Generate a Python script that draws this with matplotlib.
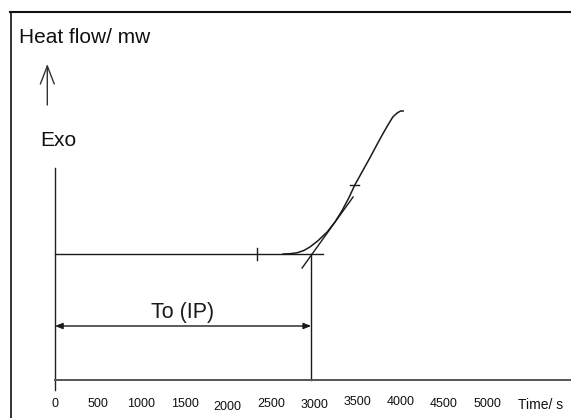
import numpy as np
import matplotlib
matplotlib.use("Agg")
import matplotlib.pyplot as plt
from matplotlib.lines import Line2D
from matplotlib.patches import FancyArrowPatch
from matplotlib.transforms import ScaledTranslation

plt.rcParams['font.family'] = ['Liberation Sans', 'DejaVu Sans']

# ──────────────────────────────────────────────
# Data (time in s, heat flow in arbitrary units)
# ──────────────────────────────────────────────
tick_values = [0, 500, 1000, 1500, 2000, 2500, 3000, 3500, 4000, 4500, 5000]
tick_labels = [str(v) for v in tick_values]
# the scanned labels are not quite level (px, + = down)
tick_label_shift = [0, 0, 0, 0, 3, 0, 1, -2, -2, 0, 0]

baseline_level = 1.26
baseline_end = 3100
baseline_mark = 2340

# exotherm curve
curve_t = [2640, 2720, 2800, 2880, 2950, 3040, 3150, 3240, 3320, 3400,
           3470, 3560, 3650, 3730, 3800, 3860, 3910, 3960, 4000, 4030]
curve_q = [1.26, 1.263, 1.272, 1.295, 1.33, 1.39, 1.48, 1.58, 1.69, 1.82,
           1.95, 2.09, 2.23, 2.36, 2.47, 2.56, 2.63, 2.67, 2.69, 2.69]
curve_mark_t = [3420, 3520]
curve_mark_q = [1.95, 1.95]

# tangent at the inflection point
tangent_t = [2860, 3450]
tangent_q = [1.12, 1.83]

induction_time = 2965     # To (IP)
arrow_level = 0.54

W, H = 571, 418
fig = plt.figure(figsize=(W / 100, H / 100), dpi=100)

# axes: y spine from px 168 down to px 390, x axis at px 380
ax = fig.add_axes([55 / W, 28 / H, (W - 55) / W, (390 - 168) / H])
ax.set_xlim(0, (W - 55) / 0.0864)
ax.set_ylim(-0.10, 2.12)
ax.spines['top'].set_visible(False)
ax.spines['right'].set_visible(False)
ax.spines['bottom'].set_position(('data', 0))
ax.spines['left'].set_color('#222222')
ax.spines['left'].set_linewidth(1.0)
ax.spines['bottom'].set_color('#555555')
ax.spines['bottom'].set_linewidth(1.4)
ax.set_yticks([])
ax.set_xticks(tick_values)
ax.set_xticklabels(tick_labels)
ax.tick_params(axis='x', length=0, pad=13, labelsize=9, labelcolor='#111111')
ax.text(5625, 0, "Time/ s", fontsize=10, color='#111111', ha='center', va='top',
        transform=ax.transData + ScaledTranslation(0, -13 / 72, fig.dpi_scale_trans))

line_kw = dict(color='#1a1a1a', lw=1.0, clip_on=False)

# baseline, its mark and the vertical at To
ax.plot([0, baseline_end], [baseline_level, baseline_level], **line_kw)
ax.plot([baseline_mark, baseline_mark], [baseline_level - 0.06, baseline_level + 0.06], **line_kw)
ax.plot([induction_time, induction_time], [0, baseline_level], **line_kw)

# curve and tangent
ax.plot(curve_t, curve_q, color='#1a1a1a', lw=1.1, clip_on=False)
ax.plot(curve_mark_t, curve_mark_q, **line_kw)
ax.plot(tangent_t, tangent_q, **line_kw)

# double arrow with label
ax.annotate("", xy=(0, arrow_level), xytext=(induction_time, arrow_level),
            arrowprops=dict(arrowstyle='<|-|>,head_length=0.45,head_width=0.18',
                            color='#1a1a1a', lw=1.0, shrinkA=0, shrinkB=0))
ax.text(1476, 0.62, "To (IP)", fontsize=15.5, ha='center', va='baseline', color='#1a1a1a')

# frame (left and top only)
fig.add_artist(Line2D([10.5 / W, 10.5 / W], [0, 1 - 12 / H], color='#111111', lw=1.2))
fig.add_artist(Line2D([10 / W, 1], [1 - 12 / H, 1 - 12 / H], color='#111111', lw=1.5))

# y label, arrow and Exo
fig.text(19 / W, 1 - 43 / H, "Heat flow/ mw", fontsize=15, va='baseline', ha='left', color='#111111')
fig.text(40.5 / W, 1 - 146 / H, "Exo", fontsize=15, va='baseline', ha='left', color='#111111')
fig.add_artist(FancyArrowPatch(
    (47.3 / W, 1 - 105 / H), (47.3 / W, 1 - 64 / H), transform=fig.transFigure,
    arrowstyle='->,head_length=1.3,head_width=0.5', mutation_scale=10,
    color='#333333', lw=1.0, shrinkA=0, shrinkB=0))

fig.canvas.draw()
for lab, dy in zip(ax.get_xticklabels(), tick_label_shift):
    lab.set_transform(lab.get_transform() + ScaledTranslation(0, -dy / 100, fig.dpi_scale_trans))

fig.savefig("out.png", dpi=100)
